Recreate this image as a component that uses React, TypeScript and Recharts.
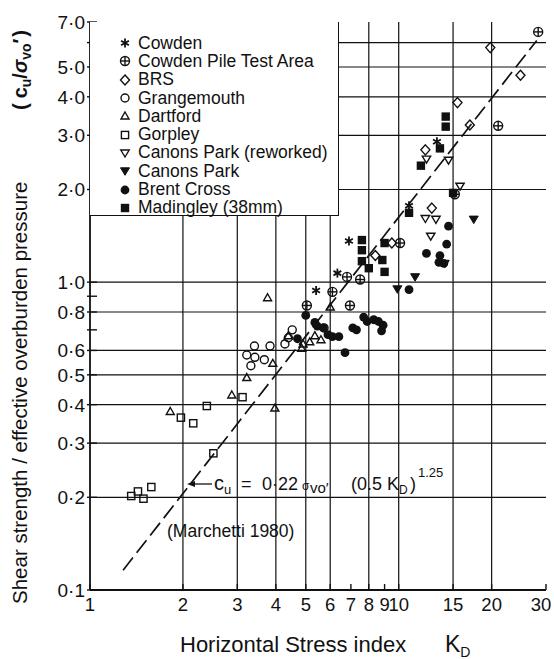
import React from "react";
import { ScatterChart, Scatter, XAxis, YAxis, CartesianGrid, Legend } from "recharts";

// KD vs cu/σvo' (log-log)
const cowden = [[5.4, 0.94], [6.33, 1.07], [6.9, 1.36], [10.8, 1.77], [13.3, 2.86]];
const cowdenPile = [[5.04, 0.84], [6.1, 0.93], [6.95, 0.84], [6.8, 1.04], [7.5, 1.02], [10.1, 1.34], [15.2, 1.93], [21, 3.22], [28.3, 6.5]];
const brs = [[8.4, 1.22], [9.5, 1.34], [12.8, 1.74], [12.2, 2.69], [15.5, 3.83], [17, 3.24], [19.8, 5.78], [24.8, 4.7]];
const grangemouth = [[3.22, 0.58], [3.41, 0.62], [3.42, 0.57], [3.32, 0.535], [3.67, 0.56], [3.83, 0.62], [4.28, 0.63], [4.39, 0.66], [4.52, 0.7], [5.73, 0.71]];
const dartford = [[1.82, 0.38], [2.88, 0.43], [3.22, 0.49], [3.91, 0.545], [3.97, 0.39], [3.76, 0.89], [4.39, 0.67], [4.9, 0.63], [4.85, 0.61], [5.15, 0.64], [5.35, 0.67], [5.6, 0.65], [6.0, 0.83]];
const gorpley = [[1.36, 0.202], [1.43, 0.209], [1.49, 0.198], [1.58, 0.216], [1.97, 0.363], [2.16, 0.348], [2.39, 0.396], [2.51, 0.278], [3.12, 0.423]];
const canonsReworked = [[12.3, 2.51], [14.5, 2.49], [15.8, 2.05], [12.2, 1.61], [13.2, 1.6], [12.7, 1.41]];
const canonsPark = [[9.9, 0.95], [11.3, 1.04], [14.1, 1.15], [17.5, 1.6]];
const brentCross = [[4.7, 0.655], [5.0, 0.78], [5.35, 0.74], [5.45, 0.72], [5.7, 0.71], [5.9, 0.675], [6.1, 0.665], [6.4, 0.665], [6.7, 0.59], [7.1, 0.71], [7.3, 0.7], [7.7, 0.77], [7.9, 0.745], [8.3, 0.755], [8.6, 0.745], [8.9, 0.725], [8.8, 0.695], [10.8, 0.945], [12.3, 1.24], [13.6, 1.22], [13.5, 1.16], [14.0, 1.15], [14.3, 1.33], [14.5, 1.52]];
const madingley = [[14.2, 3.45], [14.2, 3.2], [13.6, 2.72], [11.8, 2.39], [15.0, 1.95], [10.8, 1.68], [7.6, 1.37], [7.6, 1.27], [7.6, 1.17], [8.0, 1.11], [9.0, 1.34], [8.85, 1.18], [9.0, 1.08]];
// Marchetti (1980) line, end points
const marchetti = [[1.28, 0.116], [28, 6.1]];

const X_TICKS = [1, 2, 3, 4, 5, 6, 7, 8, 9, 10, 15, 20, 30];
const X_GRID = [2, 3, 4, 5, 6, 8, 10, 15, 20];
const Y_TICKS = [0.1, 0.2, 0.3, 0.4, 0.5, 0.6, 0.7, 0.8, 0.9, 1, 2, 3, 4, 5, 6, 7];
const Y_LABELLED = [0.1, 0.2, 0.3, 0.4, 0.5, 0.6, 0.8, 1, 2, 3, 4, 5, 7];
const Y_GRID = [0.2, 0.3, 0.4, 0.5, 0.6, 0.8, 1, 2, 3, 4, 5, 6];

const INK = "#111";
const FONT = "'Liberation Sans', Arial, Helvetica, sans-serif";

const pts = (a: number[][]) => a.map(([x, y]) => ({ x, y }));

type Kind = "star" | "circlePlus" | "diamond" | "circle" | "triangle" | "square" | "triDown" | "triDownFill" | "dot" | "block";

function Marker({ kind, cx, cy }: { kind: Kind; cx: number; cy: number }) {
  const sw = 1.4;
  switch (kind) {
    case "star":
      return (
        <g stroke={INK} strokeWidth={1.8}>
          <line x1={cx} y1={cy - 4.5} x2={cx} y2={cy + 4.5} />
          <line x1={cx - 3.9} y1={cy - 2.25} x2={cx + 3.9} y2={cy + 2.25} />
          <line x1={cx - 3.9} y1={cy + 2.25} x2={cx + 3.9} y2={cy - 2.25} />
        </g>
      );
    case "circlePlus":
      return (
        <g stroke={INK} strokeWidth={sw} fill="none">
          <circle cx={cx} cy={cy} r={4.5} />
          <line x1={cx - 4.5} y1={cy} x2={cx + 4.5} y2={cy} />
          <line x1={cx} y1={cy - 4.5} x2={cx} y2={cy + 4.5} />
        </g>
      );
    case "diamond":
      return <polygon points={`${cx},${cy - 5} ${cx + 4.5},${cy} ${cx},${cy + 5} ${cx - 4.5},${cy}`} fill="none" stroke={INK} strokeWidth={sw} />;
    case "circle":
      return <circle cx={cx} cy={cy} r={4} fill="none" stroke={INK} strokeWidth={sw} />;
    case "triangle":
      return <polygon points={`${cx},${cy - 4} ${cx + 4},${cy + 3} ${cx - 4},${cy + 3}`} fill="none" stroke={INK} strokeWidth={sw} />;
    case "square":
      return <rect x={cx - 3.6} y={cy - 3.6} width={7.2} height={7.2} fill="none" stroke={INK} strokeWidth={sw} />;
    case "triDown":
      return <polygon points={`${cx - 4.2},${cy - 3} ${cx + 4.2},${cy - 3} ${cx},${cy + 4}`} fill="none" stroke={INK} strokeWidth={sw} />;
    case "triDownFill":
      return <polygon points={`${cx - 4.5},${cy - 3.2} ${cx + 4.5},${cy - 3.2} ${cx},${cy + 4.3}`} fill={INK} stroke={INK} strokeWidth={1} />;
    case "dot":
      return <circle cx={cx} cy={cy} r={4.4} fill={INK} />;
    case "block":
      return <rect x={cx - 4.2} y={cy - 4.2} width={8.4} height={8.4} fill={INK} />;
  }
  return null;
}

const SERIES: { name: string; kind: Kind; data: number[][] }[] = [
  { name: "Cowden", kind: "star", data: cowden },
  { name: "Cowden Pile Test Area", kind: "circlePlus", data: cowdenPile },
  { name: "BRS", kind: "diamond", data: brs },
  { name: "Grangemouth", kind: "circle", data: grangemouth },
  { name: "Dartford", kind: "triangle", data: dartford },
  { name: "Gorpley", kind: "square", data: gorpley },
  { name: "Canons Park (reworked)", kind: "triDown", data: canonsReworked },
  { name: "Canons Park", kind: "triDownFill", data: canonsPark },
  { name: "Brent Cross", kind: "dot", data: brentCross },
  { name: "Madingley (38mm)", kind: "block", data: madingley },
];

const fmtY = (v: number) => v.toFixed(1).replace(".", "·");

const YTick = (props: any) => {
  const { x, y, payload } = props;
  const v = payload.value;
  return (
    <g>
      <line x1={x - 3} x2={x + 7} y1={y} y2={y} stroke={INK} strokeWidth={1.4} />
      {Y_LABELLED.includes(v) && (
        <text x={x - 5} y={y} dy="0.36em" textAnchor="end" fontSize={19} fontFamily={FONT} fill={INK}>
          {fmtY(v)}
        </text>
      )}
    </g>
  );
};

const XTick = (props: any) => {
  const { x, y, payload } = props;
  const v = payload.value;
  return (
    <g>
      <line x1={x} x2={x} y1={y} y2={y - 6} stroke={INK} strokeWidth={1.4} />
      <text x={v === 30 ? x - 5 : x} y={y + 21} textAnchor="middle" fontSize={18.5} fontFamily={FONT} fill={INK}>
        {v}
      </text>
    </g>
  );
};

const TopTick = (props: any) => {
  const { x, y } = props;
  return <line x1={x} x2={x} y1={y} y2={y + 6} stroke={INK} strokeWidth={1.4} />;
};

const RightTick = (props: any) => {
  const { x, y } = props;
  return <line x1={x} x2={x + 5} y1={y} y2={y} stroke={INK} strokeWidth={1.4} />;
};

const renderLegend = () => (
  <div
    style={{
      width: 249,
      height: 194,
      boxSizing: "border-box",
      background: "#fff",
      borderRight: `1.6px solid ${INK}`,
      borderBottom: `1.6px solid ${INK}`,
      paddingTop: 12,
      fontFamily: FONT,
      fontSize: 17.5,
      color: INK,
    }}
  >
    {SERIES.map((s) => (
      <div key={s.name} style={{ display: "flex", alignItems: "center", height: 18.3 }}>
        <svg width={48} height={18} style={{ flex: "none" }}>
          <Marker kind={s.kind} cx={35} cy={9} />
        </svg>
        <span style={{ whiteSpace: "nowrap" }}>{s.name}</span>
      </div>
    ))}
  </div>
);

export default function App() {
  return (
    <div style={{ position: "absolute", left: 0, top: 0, width: 554, height: 659, background: "#fff" }}>
      <ScatterChart width={554} height={659} margin={{ top: 22, right: 8, bottom: 29, left: 30 }}>
        <CartesianGrid
          horizontalValues={Y_GRID}
          verticalValues={X_GRID}
          stroke={INK}
          strokeWidth={1.2}
          strokeOpacity={1}
        />
        <XAxis
          type="number"
          dataKey="x"
          scale="log"
          domain={[1, 30]}
          allowDataOverflow
          ticks={X_TICKS}
          interval={0}
          height={40}
          tickSize={0}
          tickMargin={0}
          tickLine={false}
          tick={<XTick />}
          axisLine={{ stroke: INK, strokeWidth: 1.8 }}
        />
        <XAxis
          xAxisId="top"
          orientation="top"
          type="number"
          dataKey="x"
          scale="log"
          domain={[1, 30]}
          allowDataOverflow
          ticks={[7, 9]}
          interval={0}
          height={0}
          tickSize={0}
          tickMargin={0}
          tickLine={false}
          tick={<TopTick />}
          axisLine={{ stroke: INK, strokeWidth: 1.8 }}
        />
        <YAxis
          type="number"
          dataKey="y"
          scale="log"
          domain={[0.1, 7]}
          allowDataOverflow
          ticks={Y_TICKS}
          interval={0}
          width={60}
          tickSize={0}
          tickMargin={0}
          tickLine={false}
          tick={<YTick />}
          axisLine={{ stroke: INK, strokeWidth: 1.8 }}
        />
        <YAxis
          yAxisId="right"
          orientation="right"
          type="number"
          dataKey="y"
          scale="log"
          domain={[0.1, 7]}
          allowDataOverflow
          ticks={[0.7, 0.9]}
          interval={0}
          width={0}
          tickSize={0}
          tickMargin={0}
          tickLine={false}
          tick={<RightTick />}
          axisLine={{ stroke: INK, strokeWidth: 1.8 }}
        />
        <Scatter
          name="Marchetti 1980"
          data={pts(marchetti)}
          line={{ stroke: INK, strokeWidth: 1.7, strokeDasharray: "16 6" }}
          shape={() => <g />}
          legendType="none"
          isAnimationActive={false}
        />
        {SERIES.map((s) => (
          <Scatter
            key={s.name}
            name={s.name}
            data={pts(s.data)}
            shape={(p: any) => <Marker kind={s.kind} cx={p.cx} cy={p.cy} />}
            isAnimationActive={false}
          />
        ))}
        <Legend
          layout="vertical"
          align="center"
          verticalAlign="middle"
          content={renderLegend}
          wrapperStyle={{ left: 90, top: 22, width: 249, height: 194 }}
        />
      </ScatterChart>

      <svg
        width={554}
        height={659}
        style={{ position: "absolute", left: 0, top: 0, pointerEvents: "none" }}
        fontFamily={FONT}
        fill={INK}
      >
        {/* y axis title */}
        <g transform="rotate(-90)">
          <text x={-604} y={27} fontSize={20.5}>
            Shear strength / effective overburden pressure
          </text>
          <text x={-110} y={27} fontSize={20} fontWeight="bold">
            (
            <tspan dx={5}>c</tspan>
            <tspan fontSize={14} dy={4}>u</tspan>
            <tspan dy={-4}>/</tspan>
            <tspan fontStyle="italic">σ</tspan>
            <tspan fontSize={14} dy={4}>vo</tspan>
            <tspan dy={-4}>′</tspan>
            <tspan dx={2}>)</tspan>
          </text>
        </g>

        {/* x axis title */}
        <text x={180} y={652} fontSize={22}>
          Horizontal Stress index
        </text>
        <text x={445} y={652} fontSize={23}>
          K<tspan fontSize={14} dy={5}>D</tspan>
        </text>

        {/* equation annotation */}
        <line x1={193} y1={484} x2={212} y2={484} stroke={INK} strokeWidth={1.3} />
        <polygon points="187,484 195,481 195,487" fill={INK} />
        <text y={490} fontSize={18}>
          <tspan x={214} fontSize={20}>c</tspan>
          <tspan fontSize={13} dy={4}>u</tspan>
          <tspan x={241} dy={-4}>=</tspan>
          <tspan x={262}>0·22</tspan>
          <tspan x={302} fontSize={12}>σ</tspan>
          <tspan x={310} fontSize={15} dy={3}>vo′</tspan>
          <tspan x={351} dy={-3}>(0.5 K</tspan>
          <tspan fontSize={12} dy={4}>D</tspan>
          <tspan x={410} dy={-4}>)</tspan>
          <tspan x={418} fontSize={13} dy={-13}>1.25</tspan>
        </text>
        <text x={167} y={537} fontSize={17.5}>
          (Marchetti 1980)
        </text>
      </svg>
    </div>
  );
}
